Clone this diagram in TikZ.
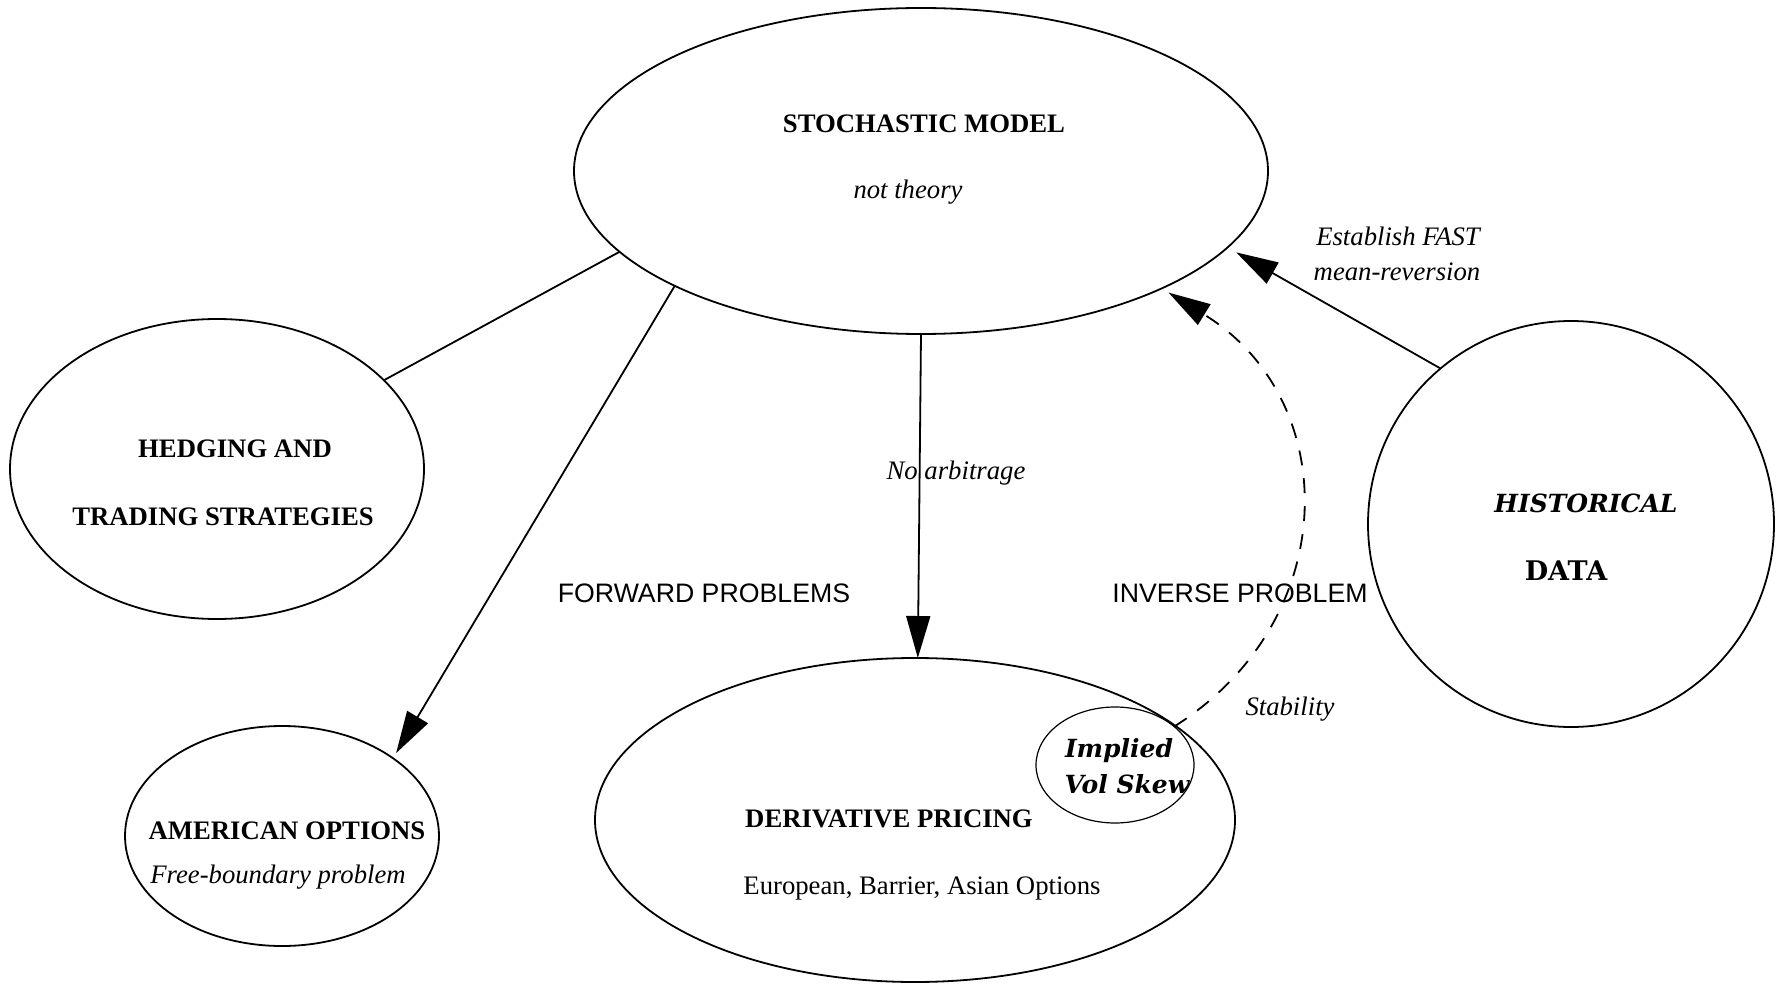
\documentclass[tikz,border=0pt]{standalone}
\usepackage{fontspec}
\setmainfont{Liberation Serif}
\setsansfont{Liberation Sans}
\newfontfamily\schfont{DejaVu Serif}
\usetikzlibrary{shapes.geometric,arrows.meta}
\begin{document}
\begin{tikzpicture}[x=1pt,y=-1pt,
  bubble/.style={draw,ellipse,line width=1.8pt,inner sep=0pt,outer sep=0pt},
  txt/.style={anchor=base,inner sep=0pt,font=\fontsize{26.7}{32}\selectfont},
  bftxt/.style={anchor=base,inner sep=0pt,font=\fontsize{26.7}{32}\selectfont\bfseries},
  ittxt/.style={anchor=base,inner sep=0pt,font=\fontsize{26.7}{32}\selectfont\itshape},
  sftxt/.style={anchor=base,inner sep=0pt,font=\fontsize{26.7}{32}\selectfont\sffamily},
  schbi/.style={anchor=base,inner sep=0pt,font=\fontsize{25}{30}\selectfont\schfont\bfseries\itshape},
  schb/.style={anchor=base,inner sep=0pt,font=\fontsize{27}{32}\selectfont\schfont\bfseries},
  conn/.style={line width=1.8pt},
  arr/.style={conn,-{Triangle[length=42pt,width=24pt]}},
  dasharr/.style={conn,dash pattern=on 15pt off 13pt,-{Triangle[length=42pt,width=24pt]}},
]
\useasboundingbox (0,0) rectangle (1785,984);
\fill[white] (0,0) rectangle (1785,984);

% shapes
\node[bubble,minimum width=694pt,minimum height=326pt] (stoch) at (921,171) {};
\node[bubble,minimum width=414pt,minimum height=300pt] (hedge) at (217,469) {};
\node[bubble,minimum width=314pt,minimum height=220pt] (amer) at (282,836) {};
\node[bubble,minimum width=640pt,minimum height=324pt] (deriv) at (915,820) {};
\node[bubble,line width=1.2pt,minimum width=158pt,minimum height=116pt] (impl) at (1115,765) {};
\node[bubble,minimum width=406pt,minimum height=406pt] (hist) at (1571,524) {};

% texts
\node[bftxt] (t1) at (924,133) {STOCHASTIC MODEL};
\node[ittxt] (t2) at (908,199) {not theory};
\node[bftxt] (t3) at (235,457) {HEDGING AND};
\node[bftxt] (t4) at (223,525) {TRADING STRATEGIES};
\node[bftxt] (t5) at (287,839) {AMERICAN OPTIONS};
\node[ittxt] (t6) at (278,883) {Free-boundary problem};
\node[bftxt] (t7) at (889,827) {DERIVATIVE PRICING};
\node[txt] (t8) at (922,894) {European, Barrier, Asian Options};
\node[schbi] (t9) at (1119,757) {Implied};
\node[schbi] (t10) at (1127,793) {Vol Skew};
\node[schbi] (t11) at (1586,512) {HISTORICAL};
\node[schb] (t12) at (1566,580) {DATA};

% connectors
\draw[conn] (stoch.195.7) -- (hedge.28.7);
\draw[arr,shorten >=6pt] (stoch.205.6) -- (amer.35.5);
\draw[arr] (stoch.south) -- (deriv.89);
\draw[arr,shorten >=10pt] (hist.130.5) -- (stoch.346.2);
\draw[dasharr,shorten >=8pt] (impl.33) .. controls (1343,620) and (1343,400) .. (stoch.334.5);

% labels
\node[ittxt] (l1) at (956,479) {No arbitrage};
\node[sftxt] (l2) at (704,602) {FORWARD PROBLEMS};
\node[sftxt] (l3) at (1240,602) {INVERSE PROBLEM};
\node[ittxt] (l4) at (1290,715) {Stability};
\node[ittxt] (l5) at (1398,246) {Establish FAST};
\node[ittxt] (l6) at (1397,280) {mean-reversion};
\end{tikzpicture}
\end{document}
